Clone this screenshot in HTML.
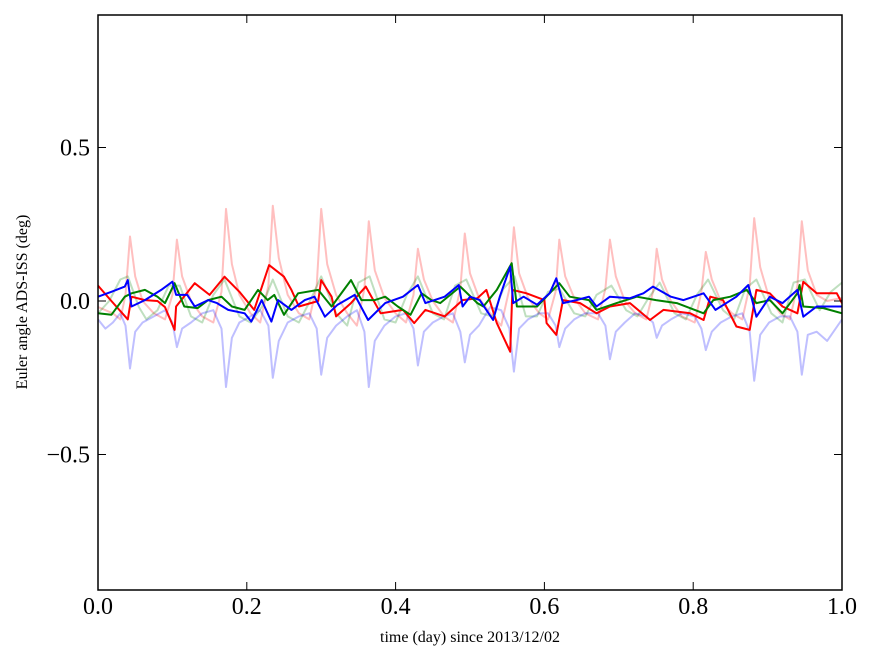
<!DOCTYPE html>
<html><head><meta charset="utf-8"><style>
body{margin:0;background:#fff;}
svg{display:block;font-family:"Liberation Serif","DejaVu Serif",serif;}
</style></head><body>
<svg id="chart" width="875" height="662" viewBox="0 0 875 662" xmlns="http://www.w3.org/2000/svg">
<defs><clipPath id="plotclip"><rect x="98" y="15" width="744" height="575"/></clipPath></defs>
<rect x="0" y="0" width="875" height="662" fill="#fff"/>
<g id="series" clip-path="url(#plotclip)"></g>
<rect x="98" y="15" width="744" height="575" fill="none" stroke="#000" stroke-width="1.5"/>
<g id="ticks"></g>
<text x="470" y="642" font-size="16" text-anchor="middle">time (day) since 2013/12/02</text>
<text transform="translate(27,302) rotate(-90)" font-size="16" text-anchor="middle">Euler angle ADS-ISS (deg)</text>
</svg>
<script>
const xTicks=[0.0,0.2,0.4,0.6,0.8,1.0];
const xTickLabels=["0.0","0.2","0.4","0.6","0.8","1.0"];
const yTicks=[0.5,0.0,-0.5];
const yTickLabels=["0.5","0.0","\u22120.5"];

const pinkT=[0,0.02,0.03,0.037,0.043,0.05,0.06,0.075,0.09,0.1,0.106,0.113,0.125,0.14,0.155,0.166,0.172,0.18,0.19,0.205,0.218,0.229,0.235,0.243,0.255,0.27,0.284,0.294,0.30,0.308,0.32,0.335,0.348,0.358,0.364,0.372,0.385,0.4,0.414,0.424,0.43,0.438,0.45,0.465,0.477,0.487,0.493,0.5,0.512,0.527,0.542,0.553,0.559,0.566,0.578,0.593,0.605,0.615,0.62,0.628,0.64,0.655,0.672,0.682,0.688,0.696,0.708,0.722,0.737,0.746,0.751,0.758,0.77,0.785,0.802,0.811,0.817,0.825,0.837,0.852,0.866,0.876,0.882,0.89,0.902,0.917,0.93,0.94,0.946,0.954,0.966,0.98,1.0];
const pinkV=[-0.02,-0.04,-0.06,0.02,0.21,0.08,0.0,-0.04,-0.06,0.02,0.20,0.08,0.0,-0.05,-0.07,0.03,0.30,0.12,0.02,-0.04,-0.07,0.05,0.31,0.14,0.02,-0.04,-0.06,0.05,0.30,0.12,0.02,-0.04,-0.08,0.04,0.26,0.10,0.01,-0.04,-0.07,0.02,0.17,0.07,0.0,-0.05,-0.07,0.04,0.22,0.09,0.01,-0.04,-0.08,0.04,0.24,0.09,0.01,-0.04,-0.06,0.03,0.20,0.08,0.01,-0.04,-0.06,0.04,0.20,0.08,0.0,-0.04,-0.06,0.03,0.17,0.07,0.0,-0.05,-0.07,0.03,0.16,0.07,0.0,-0.04,-0.06,0.05,0.27,0.11,0.01,-0.04,-0.06,0.05,0.26,0.10,0.02,0.0,0.01];

const lblueT=[0,0.01,0.02,0.03,0.037,0.043,0.05,0.06,0.075,0.09,0.1,0.106,0.113,0.125,0.14,0.155,0.166,0.172,0.18,0.19,0.205,0.218,0.229,0.235,0.243,0.255,0.27,0.284,0.294,0.30,0.308,0.32,0.335,0.348,0.358,0.364,0.372,0.385,0.4,0.414,0.424,0.43,0.438,0.45,0.465,0.477,0.487,0.493,0.5,0.512,0.527,0.542,0.553,0.559,0.566,0.578,0.593,0.605,0.615,0.62,0.628,0.64,0.655,0.672,0.682,0.688,0.696,0.708,0.722,0.737,0.746,0.751,0.758,0.77,0.785,0.802,0.811,0.817,0.825,0.837,0.852,0.866,0.876,0.882,0.89,0.902,0.917,0.93,0.94,0.946,0.954,0.966,0.98,1.0];
const lblueV=[-0.06,-0.09,-0.07,-0.04,-0.08,-0.22,-0.10,-0.07,-0.05,-0.03,-0.07,-0.15,-0.09,-0.07,-0.04,-0.03,-0.09,-0.28,-0.12,-0.07,-0.05,-0.03,-0.08,-0.25,-0.13,-0.07,-0.05,-0.04,-0.09,-0.24,-0.12,-0.08,-0.05,-0.03,-0.10,-0.28,-0.13,-0.08,-0.05,-0.04,-0.09,-0.21,-0.10,-0.07,-0.05,-0.04,-0.10,-0.20,-0.11,-0.08,-0.02,-0.03,-0.09,-0.23,-0.09,-0.06,-0.04,-0.04,-0.08,-0.15,-0.09,-0.06,-0.04,-0.04,-0.08,-0.19,-0.10,-0.07,-0.04,-0.05,-0.07,-0.12,-0.08,-0.06,-0.04,-0.05,-0.09,-0.16,-0.10,-0.07,-0.05,-0.04,-0.10,-0.26,-0.11,-0.07,-0.05,-0.05,-0.10,-0.24,-0.11,-0.10,-0.13,-0.06];

const lgreenT=[0,0.015,0.03,0.04,0.055,0.065,0.08,0.095,0.11,0.125,0.14,0.155,0.17,0.19,0.205,0.22,0.235,0.255,0.27,0.285,0.30,0.32,0.335,0.35,0.365,0.385,0.4,0.415,0.43,0.45,0.465,0.48,0.495,0.515,0.53,0.545,0.56,0.575,0.59,0.605,0.62,0.64,0.655,0.67,0.69,0.71,0.725,0.74,0.755,0.775,0.79,0.805,0.82,0.84,0.855,0.87,0.885,0.905,0.92,0.935,0.95,0.97,0.985,1.0];
const lgreenV=[-0.04,0.0,0.07,0.08,-0.02,-0.06,-0.03,0.05,0.05,-0.05,-0.07,0.02,0.07,-0.05,-0.07,-0.02,0.07,-0.05,-0.07,0.0,0.08,-0.04,-0.08,0.06,0.08,-0.06,-0.07,0.02,0.08,-0.04,-0.06,0.05,0.07,-0.04,-0.05,0.04,0.08,-0.05,-0.05,0.03,0.04,-0.04,-0.05,0.02,0.05,-0.03,-0.05,0.01,0.06,-0.04,-0.06,0.02,0.07,-0.03,-0.06,0.04,0.07,-0.04,-0.07,0.06,0.07,-0.03,0.03,0.06];

const redT=[0,0.018,0.04,0.045,0.063,0.08,0.09,0.103,0.105,0.13,0.15,0.17,0.19,0.21,0.23,0.25,0.26,0.27,0.296,0.30,0.314,0.32,0.34,0.36,0.38,0.41,0.425,0.44,0.466,0.49,0.51,0.522,0.536,0.554,0.557,0.576,0.60,0.603,0.616,0.625,0.648,0.67,0.688,0.715,0.742,0.76,0.796,0.814,0.823,0.84,0.858,0.876,0.885,0.903,0.92,0.94,0.948,0.966,0.993,1.0];
const redV=[0.05,0.0,-0.06,0.014,0.003,0.0,-0.02,-0.094,-0.018,0.058,0.02,0.079,0.03,-0.029,0.117,0.079,0.036,-0.018,0.0,0.068,0.014,-0.05,-0.007,0.047,-0.04,-0.029,-0.072,-0.029,-0.05,0.003,0.009,0.036,-0.072,-0.165,0.036,0.025,0.003,-0.072,-0.11,0.003,-0.007,-0.04,-0.018,-0.007,-0.062,-0.029,-0.04,-0.062,0.014,0.003,-0.083,-0.094,0.036,0.025,-0.018,-0.04,0.063,0.025,0.025,-0.007];

const greenT=[0,0.018,0.036,0.045,0.063,0.08,0.09,0.103,0.116,0.134,0.148,0.166,0.18,0.197,0.215,0.228,0.237,0.25,0.269,0.296,0.314,0.34,0.354,0.372,0.386,0.403,0.42,0.435,0.448,0.46,0.487,0.51,0.518,0.536,0.556,0.563,0.59,0.607,0.62,0.634,0.66,0.67,0.697,0.724,0.75,0.778,0.814,0.827,0.85,0.872,0.885,0.903,0.92,0.94,0.943,0.948,0.975,1.0];
const greenV=[-0.04,-0.045,0.014,0.025,0.036,0.014,-0.007,0.058,-0.018,-0.023,0.003,0.014,-0.018,-0.029,0.036,0.003,0.02,-0.045,0.025,0.036,-0.018,0.068,0.003,0.003,0.014,-0.018,-0.045,0.025,0.003,-0.007,0.047,-0.007,-0.018,0.036,0.123,-0.018,-0.018,0.025,0.058,0.014,0.003,-0.029,-0.007,0.014,0.003,-0.007,-0.04,0.003,0.014,0.036,-0.007,0.003,-0.04,0.025,0.052,-0.018,-0.023,-0.04];

const blueT=[0,0.018,0.036,0.04,0.045,0.063,0.085,0.10,0.105,0.12,0.13,0.148,0.16,0.175,0.197,0.206,0.22,0.233,0.242,0.26,0.278,0.291,0.305,0.322,0.345,0.363,0.386,0.41,0.43,0.44,0.466,0.485,0.49,0.5,0.513,0.531,0.54,0.554,0.558,0.572,0.59,0.607,0.616,0.625,0.643,0.66,0.67,0.688,0.715,0.733,0.746,0.77,0.787,0.814,0.83,0.858,0.874,0.885,0.903,0.92,0.94,0.948,0.966,1.0];
const blueV=[0.014,0.03,0.047,0.068,-0.018,0.003,0.036,0.063,0.02,0.02,-0.018,0.003,-0.007,-0.029,-0.04,-0.067,0.003,-0.067,0.003,-0.029,0.003,0.014,-0.051,-0.012,0.02,-0.062,-0.007,0.014,0.052,-0.007,0.014,0.052,-0.018,0.014,0.003,-0.062,0.014,0.112,-0.007,0.014,-0.012,0.025,0.074,-0.007,0.003,0.014,-0.018,0.014,0.009,0.025,0.047,0.014,0.003,0.025,-0.029,0.014,0.052,-0.051,0.014,-0.007,0.036,-0.051,-0.018,-0.018];

const X0=98,X1=842,YZ=301,YS=307;
function xs(t){return X0+(X1-X0)*t;}
function ys(v){return YZ-v*YS;}
const NS="http://www.w3.org/2000/svg";
const g=document.getElementById('series');
function draw(T,V,color,op,name){
  const p=document.createElementNS(NS,'path');
  let d='';
  const n=Math.min(T.length,V.length);
  for(let i=0;i<n;i++){d+=(i?'L':'M')+xs(T[i]).toFixed(1)+' '+ys(V[i]).toFixed(1);}
  p.setAttribute('d',d);p.setAttribute('fill','none');p.setAttribute('stroke',color);
  p.setAttribute('stroke-width','2');p.setAttribute('stroke-opacity',op);p.setAttribute('stroke-linejoin','round');
  
  
  g.appendChild(p);
}
draw(pinkT,pinkV,'#ff0000',0.25,'faint-red-line');
draw(lgreenT,lgreenV,'#008000',0.25,'faint-green-line');
draw(lblueT,lblueV,'#0000ff',0.25,'faint-blue-line');
draw(redT,redV,'#ff0000',1,'red-line');
draw(greenT,greenV,'#008000',1,'green-line');
draw(blueT,blueV,'#0000ff',1,'blue-line');

const tk=document.getElementById('ticks');
function line(x1,y1,x2,y2){const l=document.createElementNS(NS,'line');l.setAttribute('x1',x1);l.setAttribute('y1',y1);l.setAttribute('x2',x2);l.setAttribute('y2',y2);l.setAttribute('stroke','#000');l.setAttribute('stroke-width','1');
  
  
  tk.appendChild(l);}
function label(x,y,s,anchor,name){const t=document.createElementNS(NS,'text');t.setAttribute('x',x);t.setAttribute('y',y);t.setAttribute('font-size','24');t.setAttribute('text-anchor',anchor);t.textContent=s;
  
  
  tk.appendChild(t);}
xTicks.forEach((t,i)=>{const x=xs(t);line(x,590,x,582);line(x,15,x,23);label(x,614,xTickLabels[i],'middle','x-tick-label');});
yTicks.forEach((v,i)=>{const y=ys(v);line(98,y,106,y);line(842,y,834,y);label(90,y+8,yTickLabels[i],'end','y-tick-label');});
</script>
</body></html>
